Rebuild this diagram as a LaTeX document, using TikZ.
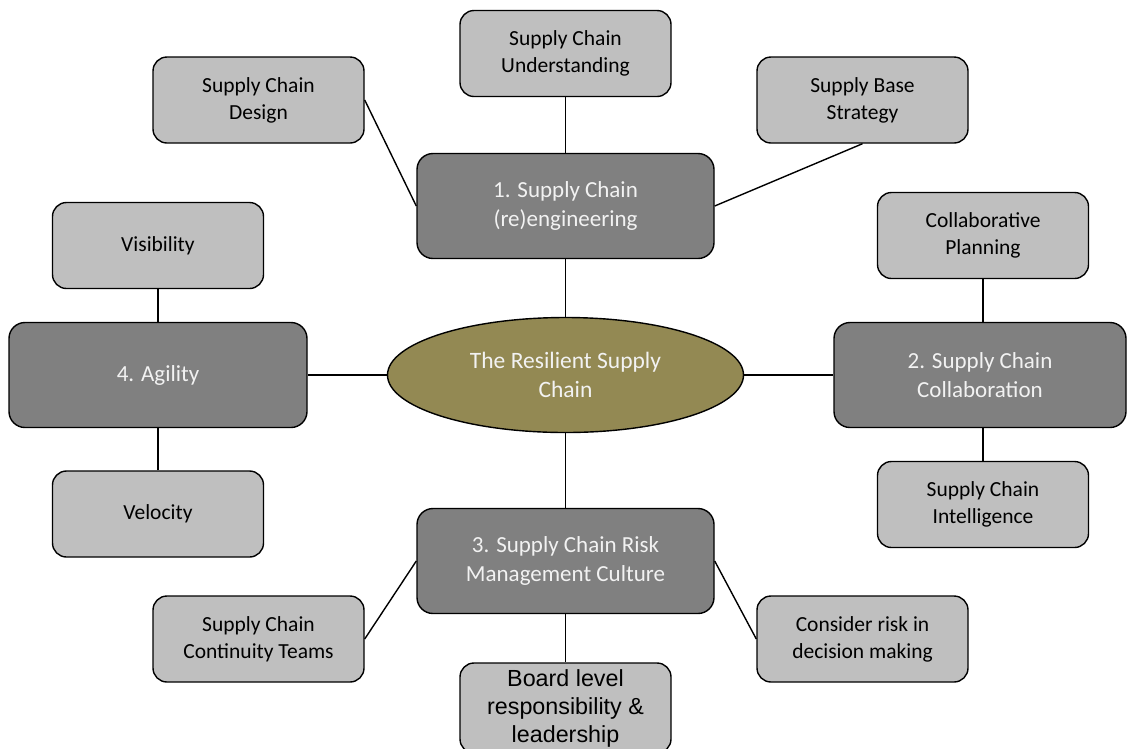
\documentclass[tikz,border=0pt]{standalone}
\usepackage{fontspec}
\setmainfont{Carlito}
\newfontfamily\arialfont{Liberation Sans}
\usetikzlibrary{shapes.geometric}
\definecolor{darkfill}{HTML}{808080}
\definecolor{lightfill}{HTML}{BFBFBF}
\definecolor{olivefill}{HTML}{938953}
\definecolor{whitetext}{HTML}{F2F2F2}
\tikzset{
  lightbox/.style={draw=black, line width=1.4pt, fill=lightfill, rounded corners=14pt,
    minimum width=211pt, minimum height=86pt, inner sep=0pt, align=center,
    text=black, font=\fontsize{21.5}{27}\selectfont},
  darkbox/.style={draw=black, line width=1.4pt, fill=darkfill, rounded corners=16pt,
    minimum width=297pt, minimum height=105pt, inner sep=0pt, align=center,
    text=whitetext, font=\fontsize{23}{29}\selectfont},
  hub/.style={ellipse, draw=black, line width=1.4pt, fill=olivefill, minimum width=356pt,
    minimum height=115pt, inner sep=0pt, align=center, text=whitetext,
    font=\fontsize{23.5}{29}\selectfont},
  link/.style={draw=black, line width=1.4pt}
}
\begin{document}
\begin{tikzpicture}[x=1pt,y=-1pt]
\useasboundingbox (0,0) rectangle (1127,748);
\clip (0,0) rectangle (1127,748);
% hub
\node[hub] (hub) at (565.5,375) {The Resilient Supply\\Chain};
% main boxes
\node[darkbox] (re) at (565.5,206) {1. Supply Chain\\(re)engineering};
\node[darkbox, minimum width=298pt] (ag) at (158,375) {4. Agility};
\node[darkbox, minimum width=292pt] (co) at (980,375) {2. Supply Chain\\Collaboration};
\node[darkbox] (rm) at (565.5,561) {3. Supply Chain Risk\\Management Culture};
% sub boxes
\node[lightbox] (und) at (565.5,53.5) {Supply Chain\\Understanding};
\node[lightbox] (des) at (258.5,100) {Supply Chain\\Design};
\node[lightbox] (sbs) at (862.5,100) {Supply Base\\Strategy};
\node[lightbox] (vis) at (158,245.5) {Visibility};
\node[lightbox] (vel) at (158,514) {Velocity};
\node[lightbox] (cp) at (983,235.5) {Collaborative\\Planning};
\node[lightbox] (ci) at (983,504.5) {Supply Chain\\Intelligence};
\node[lightbox] (ct) at (258.5,639) {Supply Chain\\Continuity Teams};
\node[lightbox] (cr) at (862.5,639) {Consider risk in\\decision making};
\node[lightbox, minimum height=90pt, font=\arialfont\fontsize{23.3}{28}\selectfont] (bl) at (565.5,708) {Board level\\responsibility \&\\leadership};
% connectors
\draw[link] (hub.north) -- (re.south);
\draw[link] (hub.south) -- (rm.north);
\draw[link] (hub.west) -- (ag.east);
\draw[link] (hub.east) -- (co.west);
\draw[link] (re.north) -- (und.south);
\draw[link] (des.east) -- (re.west);
\draw[link] (sbs.south) -- (re.east);
\draw[link] (vis.south) -- (ag.north);
\draw[link] (vel.north) -- (ag.south);
\draw[link] (cp.south) -- (cp.south |- co.north);
\draw[link] (ci.north) -- (ci.north |- co.south);
\draw[link] (rm.south) -- (bl.north);
\draw[link] (ct.east) -- (rm.west);
\draw[link] (cr.west) -- (rm.east);
\end{tikzpicture}
\end{document}
